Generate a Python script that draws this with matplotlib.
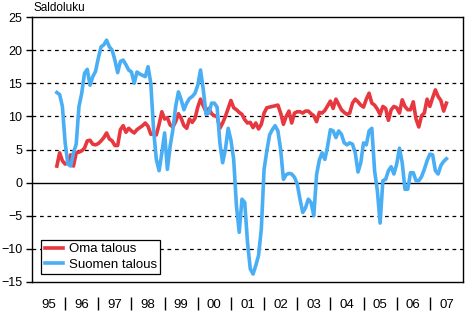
import matplotlib.pyplot as plt
import numpy as np
import pandas as pd

plt.rcParams['font.family'] = ['Liberation Sans', 'DejaVu Sans']

# monthly saldo values, Oct 1995 - Jul 2007
oma_talous = [
    2.5, 4.5, 3.3,
    2.8, 3.0, 4.2, 2.5, 4.5, 4.6, 4.8, 5.2, 6.3, 6.4, 5.8, 5.7,
    5.9, 6.3, 6.8, 7.5, 6.6, 6.3, 5.6, 5.6, 8.0, 8.6, 7.6, 8.2,
    7.8, 7.5, 8.0, 8.3, 8.6, 9.0, 8.5, 7.3, 7.3, 7.2, 8.8, 10.7,
    9.6, 9.8, 8.7, 8.4, 9.2, 10.4, 9.7, 8.6, 8.2, 9.6, 9.1, 9.7,
    11.4, 12.6, 11.6, 10.7, 11.2, 10.4, 10.1, 10.0, 8.2, 9.0, 10.0, 11.2,
    12.4, 11.3, 11.0, 10.6, 10.3, 9.5, 9.0, 9.1, 8.3, 9.0, 8.1, 8.8,
    10.5, 11.3, 11.4, 11.5, 11.6, 11.7, 10.5, 8.8, 10.0, 10.8, 9.0, 10.5,
    10.7, 10.7, 10.5, 10.8, 10.8, 10.4, 10.1, 9.2, 10.6, 10.5, 10.9, 11.6,
    12.3, 11.2, 12.6, 11.8, 11.0, 10.6, 10.3, 10.5, 12.0, 12.6, 12.2, 11.7,
    11.4, 12.6, 13.5, 12.0, 11.7, 11.1, 10.3, 11.5, 11.2, 9.4, 11.0, 11.5,
    11.3, 10.5, 12.5, 11.5, 11.0, 11.0, 12.2, 9.6, 8.4, 10.1, 10.5, 12.6,
    11.5, 12.8, 14.0, 13.0, 12.4, 10.8, 12.0,
]
suomen_talous = [
    13.6, 13.3, 11.5,
    6.0, 2.8, 2.5, 4.5, 5.8, 11.5, 13.5, 16.5, 17.1, 14.7, 16.0, 16.8,
    18.8, 20.5, 20.8, 21.5, 20.5, 20.0, 18.5, 16.6, 18.3, 18.5, 17.8, 17.0,
    16.7, 15.0, 16.7, 16.4, 16.2, 16.0, 17.5, 15.0, 8.0, 3.5, 1.8, 4.5,
    7.5, 2.0, 5.5, 8.0, 11.5, 13.7, 12.5, 11.0, 12.0, 12.7, 13.0, 13.5,
    14.7, 17.0, 14.0, 10.3, 10.5, 12.0, 12.0, 11.4, 6.0, 3.0, 5.0, 8.2,
    6.4, 3.5, -3.5, -7.5, -2.5, -3.0, -9.0, -13.0, -13.8, -12.5, -11.0, -7.0,
    2.0, 4.8, 7.2, 8.0, 8.6, 7.8, 5.0, 0.5, 1.2, 1.4, 1.3, 0.8,
    -0.2, -2.5, -4.5, -3.8, -2.5, -3.0, -5.0, 1.2, 3.4, 4.5, 3.5, 5.5,
    8.0, 7.8, 6.8, 7.8, 7.3, 6.0, 5.7, 6.0, 5.8, 4.5, 1.6, 3.0,
    6.0, 5.7, 7.8, 8.2, 1.8, -1.2, -6.1, 0.3, 0.5, 1.8, 2.4, 1.3,
    2.8, 5.2, 3.0, -1.0, -1.0, 1.5, 1.5, 0.3, 0.3, 0.9, 2.0, 3.3,
    4.3, 4.2, 1.8, 1.3, 2.6, 3.2, 3.6,
]
years = ['95', '96', '97', '98', '99', '00', '01', '02', '03', '04', '05', '06', '07']

months = pd.date_range('1995-10-01', periods=len(oma_talous), freq='MS')
t = months.year + (months.month - 1) / 12.0

fig = plt.figure(figsize=(4.66, 3.12), dpi=100)
ax = fig.add_axes([32 / 466, 30 / 312, 431 / 466, 265 / 312])

red = '#e8383f'
blue = '#4aaef5'
ax.plot(t, oma_talous, color=red, linewidth=2.6, label='Oma talous', zorder=3)
ax.plot(t, suomen_talous, color=blue, linewidth=2.6, label='Suomen talous', zorder=3)

ax.set_xlim(1995, 2008)
ax.set_ylim(-15, 25)
ax.set_yticks(np.arange(-15, 26, 5))
for v in [-10, -5, 5, 10, 15, 20]:
    ax.axhline(v, color='black', linewidth=0.9, linestyle=(0, (3, 3)), zorder=1)
ax.axhline(0, color='black', linewidth=1.0, zorder=1)

for s in ax.spines.values():
    s.set_linewidth(1.0)
ax.tick_params(axis='y', direction='out', length=4, width=1.0, pad=3, labelsize=9)

# year labels centred in each year, separators below
ax.set_xticks(np.arange(1995.5, 2008, 1.0))
ax.set_xticklabels(years)
ax.tick_params(axis='x', length=0, pad=12, labelsize=9.5)
sec = ax.secondary_xaxis(-0.058)
sec.set_xticks(np.arange(1996, 2008, 1.0))
sec.set_xticklabels([])
sec.tick_params(axis='x', direction='out', length=9, width=1.0)
sec.spines['bottom'].set_visible(False)

fig.text(33 / 466, 1 - 8 / 312, 'Saldoluku', fontsize=8.5, va='center', ha='left')

leg = ax.legend(loc='lower left', bbox_to_anchor=(0.022, 0.03), fontsize=9.5,
                frameon=True, fancybox=False, handlelength=1.4, handletextpad=0.4,
                borderpad=0.25, labelspacing=0.25, borderaxespad=0.0)
leg.get_frame().set_edgecolor('black')
leg.get_frame().set_linewidth(0.9)
leg.get_frame().set_alpha(1)

fig.savefig('out.png', dpi=100)
